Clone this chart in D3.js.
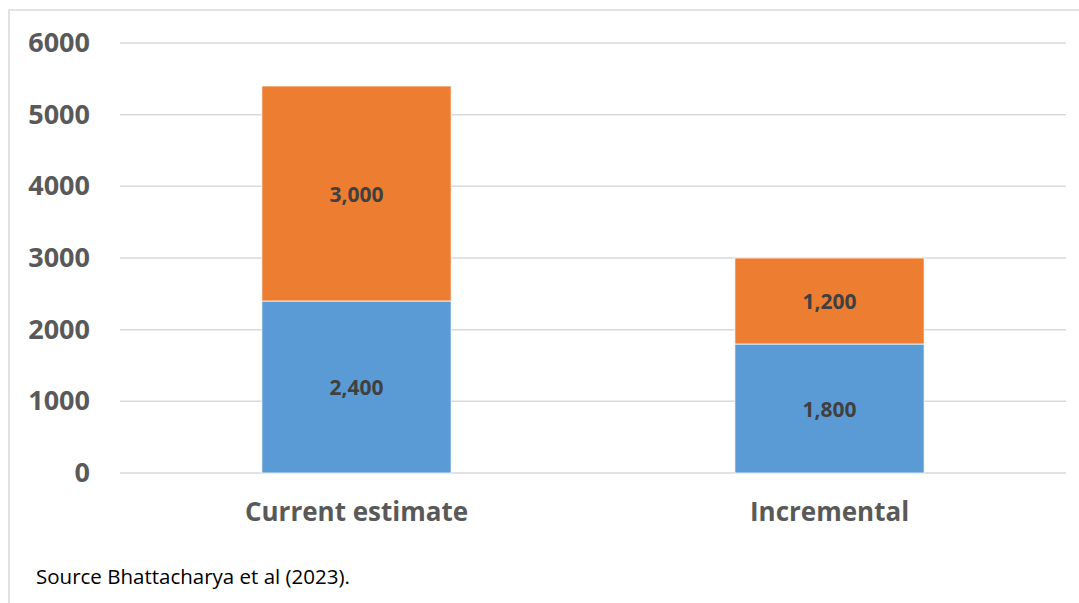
<!DOCTYPE html>
<html>
<head>
<meta charset="utf-8">
<script src="https://cdn.jsdelivr.net/npm/d3@7"></script>
<style>
  html, body { margin: 0; padding: 0; background: #fff; }
  svg { display: block; }
</style>
</head>
<body>
<svg id="chart" width="1079" height="603"></svg>
<script>
// Chart data
const categories = ["Current estimate", "Incremental"];
const seriesNames = ["Base", "Additional"];
const baseValues = [2400, 1800];
const additionalValues = [3000, 1200];
const yTicks = [0, 1000, 2000, 3000, 4000, 5000, 6000];
const seriesColors = ["#5B9BD5", "#ED7D31"];
const sourceNote = "Source Bhattacharya et al (2023).";

const svg = d3.select("#chart");
const W = 1079, H = 603;
const margin = { left: 120, right: 13, top: 43, bottom: 130 };
const plotW = W - margin.left - margin.right;
const plotH = H - margin.top - margin.bottom;

// outer chart frame
svg.append("rect")
  .attr("x", 9).attr("y", 10)
  .attr("width", W + 10).attr("height", H + 10)
  .attr("fill", "#fff").attr("stroke", "#d9d9d9").attr("stroke-width", 1.5);

const g = svg.append("g").attr("transform", `translate(${margin.left},${margin.top})`);

const x = d3.scaleBand().domain(categories).range([0, plotW]).paddingInner(0.6).paddingOuter(0.3);
const y = d3.scaleLinear().domain([0, 6000]).range([plotH, 0]);

// horizontal gridlines
g.append("g").selectAll("line").data(yTicks).join("line")
  .attr("x1", 0).attr("x2", plotW)
  .attr("y1", d => y(d)).attr("y2", d => y(d))
  .attr("stroke", "#d9d9d9").attr("stroke-width", 1.5);

// y axis labels
const yAxis = d3.axisLeft(y).tickValues(yTicks).tickSize(0).tickPadding(0).tickFormat(d3.format("d"));
const ya = g.append("g").attr("transform", "translate(-30,0)").call(yAxis);
ya.select(".domain").remove();
ya.selectAll("text")
  .attr("font-family", "'Open Sans', sans-serif")
  .attr("font-weight", "bold")
  .attr("font-size", 27)
  .attr("fill", "#595959");

// stacked series
const rows = categories.map((c, i) => ({ category: c, Base: baseValues[i], Additional: additionalValues[i] }));
const stacked = d3.stack().keys(seriesNames)(rows);

const layers = g.selectAll("g.layer").data(stacked).join("g")
  .attr("class", "layer")
  .attr("fill", (d, i) => seriesColors[i]);

layers.selectAll("rect").data(d => d).join("rect")
  .attr("x", d => x(d.data.category))
  .attr("width", x.bandwidth())
  .attr("y", d => y(d[1]))
  .attr("height", d => y(d[0]) - y(d[1]))
  .attr("stroke", "#fff").attr("stroke-width", 0.75);

// value labels centred in each segment
const fmt = d3.format(",");
layers.selectAll("text").data(d => d).join("text")
  .attr("x", d => x(d.data.category) + x.bandwidth() / 2)
  .attr("y", d => y((d[0] + d[1]) / 2))
  .attr("dy", "0.4em")
  .attr("text-anchor", "middle")
  .attr("font-family", "'Open Sans', sans-serif")
  .attr("font-weight", "bold")
  .attr("font-size", 21)
  .attr("fill", "#404040")
  .text(d => fmt(d[1] - d[0]));

// category axis
const xa = g.append("g").attr("transform", `translate(0,${plotH})`)
  .call(d3.axisBottom(x).tickSize(0).tickPadding(30));
xa.select(".domain").remove();
xa.selectAll("text")
  .attr("font-family", "'Open Sans', sans-serif")
  .attr("font-weight", "bold")
  .attr("font-size", 26)
  .attr("fill", "#595959");

// source note
svg.append("text")
  .attr("x", 36).attr("y", 584)
  .attr("font-family", "'Open Sans', sans-serif")
  .attr("font-size", 20.5)
  .attr("fill", "#000")
  .text(sourceNote);
</script>
</body>
</html>
